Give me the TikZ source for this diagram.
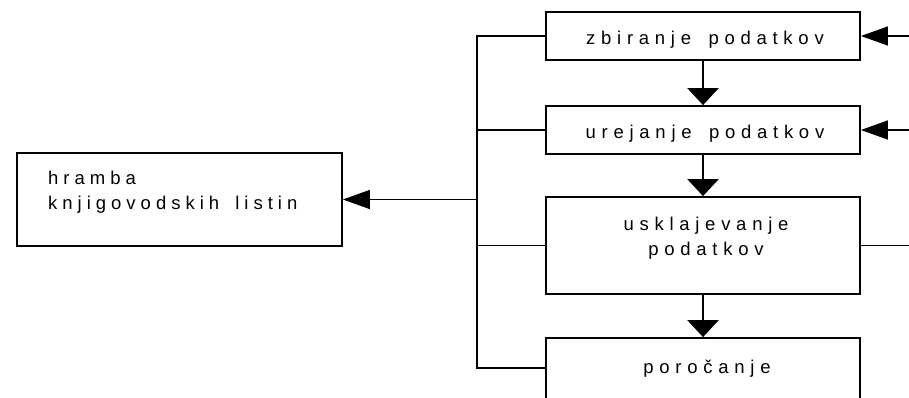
\documentclass[tikz,border=0pt]{standalone}
\usepackage{fontspec}
\setmainfont{Liberation Sans}
\newfontfamily\boxfont{Liberation Sans}[LetterSpace=31, WordSpace=1.6]
\newfontfamily\leftfont{Liberation Sans}[LetterSpace=27, WordSpace=1.6]
\usetikzlibrary{arrows.meta}
\begin{document}
\begin{tikzpicture}[x=1pt, y=-1pt,
  box/.style={draw, line width=1.8pt, rectangle, inner sep=0pt},
  txt/.style={font=\boxfont\fontsize{18.5}{25}\selectfont, inner sep=0pt, align=center},
  bus/.style={line width=1.4pt},
  harrow/.style={line width=1.4pt, -{Triangle[length=27pt, width=19pt]}},
  varrow/.style={line width=2.6pt, -{Triangle[length=17pt, width=31pt]}}]
\clip (0,0) rectangle (909,398);
\node[box, minimum width=314pt, minimum height=48pt] (zbir) at (703,36){};
\node[txt] (zbirt) at (705,40){zbiranje podatkov};
\node[box, minimum width=314pt, minimum height=48pt] (urej) at (703,130){};
\node[txt] (urejt) at (705,134){urejanje podatkov};
\draw[varrow](zbir.south) -- (urej.north);
\node[box, minimum width=314pt, minimum height=97pt] (uskl) at (703,245.5){};
\node[txt] (usklt) at (706,238){usklajevanje\\podatkov};
\draw[varrow](urej.south) -- (uskl.north);
\node[box, minimum width=314pt, minimum height=80pt] (poro) at (703,378){};
\node[txt] (porot) at (707,369){poročanje};
\draw[varrow](uskl.south) -- (poro.north);
\node[box, minimum width=325pt, minimum height=93pt] (hram) at (179.5,199.5){};
\node[txt, font=\leftfont\fontsize{18.5}{25}\selectfont, anchor=west, align=left] (hramt) at (48,192){hramba\\knjigovodskih listin};
% zbiralna linija
\coordinate (bt) at (477,36);
\coordinate (bb) at (477,368);
\draw[bus](zbir.west) -- (bt) -- (bb) -- (bb -| poro.west);
\draw[bus](urej.west) -- (urej.west -| bt);
\draw[bus](uskl.west) -- (uskl.west -| bt);
\draw[harrow](hram.east -| bt) -- (hram.east);
% vhodi z desne
\coordinate (in1) at (909,36);
\coordinate (in2) at (909,130);
\coordinate (out3) at (909,245.5);
\draw[harrow](in1) -- (zbir.east);
\draw[harrow](in2) -- (urej.east);
\draw[bus](uskl.east) -- (out3);
\end{tikzpicture}
\end{document}
